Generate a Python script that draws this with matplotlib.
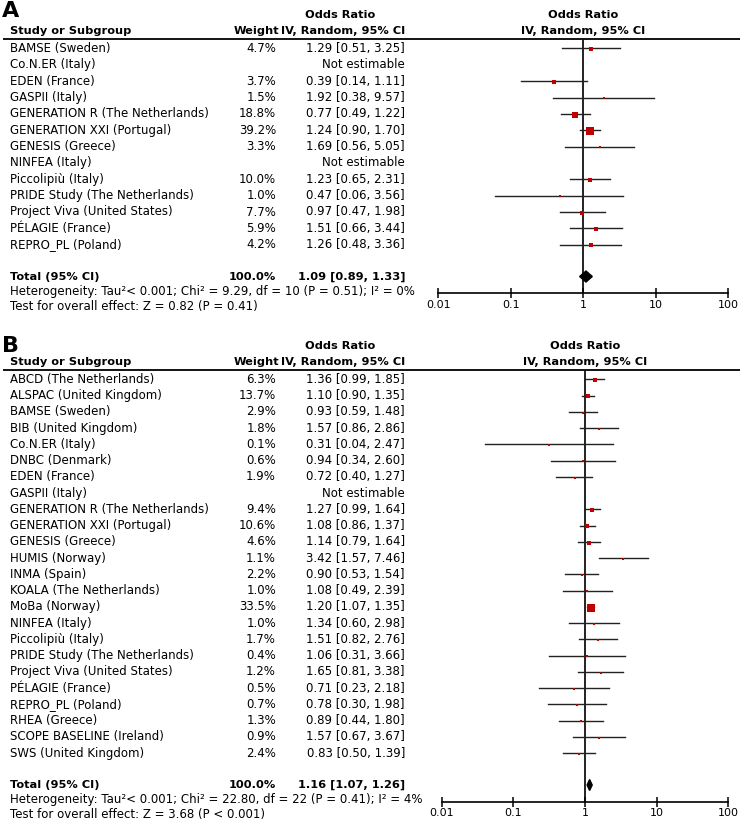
import matplotlib
matplotlib.use("Agg")
import matplotlib.pyplot as plt
from matplotlib.patches import Polygon

plt.rcParams['font.family'] = ['DejaVu Sans']

# ---------------- Data ----------------
studies_a = ["BAMSE (Sweden)", "Co.N.ER (Italy)", "EDEN (France)", "GASPII (Italy)",
             "GENERATION R (The Netherlands)", "GENERATION XXI (Portugal)", "GENESIS (Greece)",
             "NINFEA (Italy)", "Piccolipiù (Italy)", "PRIDE Study (The Netherlands)",
             "Project Viva (United States)", "PÉLAGIE (France)", "REPRO_PL (Poland)"]
weight_a = [4.7, None, 3.7, 1.5, 18.8, 39.2, 3.3, None, 10.0, 1.0, 7.7, 5.9, 4.2]
or_a = [1.29, None, 0.39, 1.92, 0.77, 1.24, 1.69, None, 1.23, 0.47, 0.97, 1.51, 1.26]
lo_a = [0.51, None, 0.14, 0.38, 0.49, 0.90, 0.56, None, 0.65, 0.06, 0.47, 0.66, 0.48]
hi_a = [3.25, None, 1.11, 9.57, 1.22, 1.70, 5.05, None, 2.31, 3.56, 1.98, 3.44, 3.36]
total_a = (1.09, 0.89, 1.33)
het_a = "Heterogeneity: Tau²< 0.001; Chi² = 9.29, df = 10 (P = 0.51); I² = 0%"
test_a = "Test for overall effect: Z = 0.82 (P = 0.41)"

studies_b = ["ABCD (The Netherlands)", "ALSPAC (United Kingdom)", "BAMSE (Sweden)",
             "BIB (United Kingdom)", "Co.N.ER (Italy)", "DNBC (Denmark)", "EDEN (France)",
             "GASPII (Italy)", "GENERATION R (The Netherlands)", "GENERATION XXI (Portugal)",
             "GENESIS (Greece)", "HUMIS (Norway)", "INMA (Spain)", "KOALA (The Netherlands)",
             "MoBa (Norway)", "NINFEA (Italy)", "Piccolipiù (Italy)", "PRIDE Study (The Netherlands)",
             "Project Viva (United States)", "PÉLAGIE (France)", "REPRO_PL (Poland)",
             "RHEA (Greece)", "SCOPE BASELINE (Ireland)", "SWS (United Kingdom)"]
weight_b = [6.3, 13.7, 2.9, 1.8, 0.1, 0.6, 1.9, None, 9.4, 10.6, 4.6, 1.1, 2.2, 1.0,
            33.5, 1.0, 1.7, 0.4, 1.2, 0.5, 0.7, 1.3, 0.9, 2.4]
or_b = [1.36, 1.10, 0.93, 1.57, 0.31, 0.94, 0.72, None, 1.27, 1.08, 1.14, 3.42, 0.90, 1.08,
        1.20, 1.34, 1.51, 1.06, 1.65, 0.71, 0.78, 0.89, 1.57, 0.83]
lo_b = [0.99, 0.90, 0.59, 0.86, 0.04, 0.34, 0.40, None, 0.99, 0.86, 0.79, 1.57, 0.53, 0.49,
        1.07, 0.60, 0.82, 0.31, 0.81, 0.23, 0.30, 0.44, 0.67, 0.50]
hi_b = [1.85, 1.35, 1.48, 2.86, 2.47, 2.60, 1.27, None, 1.64, 1.37, 1.64, 7.46, 1.54, 2.39,
        1.35, 2.98, 2.76, 3.66, 3.38, 2.18, 1.98, 1.80, 3.67, 1.39]
total_b = (1.16, 1.07, 1.26)
het_b = "Heterogeneity: Tau²< 0.001; Chi² = 22.80, df = 22 (P = 0.41); I² = 4%"
test_b = "Test for overall effect: Z = 3.68 (P < 0.001)"

ticks = [0.01, 0.1, 1, 10, 100]
tick_labels = ["0.01", "0.1", "1", "10", "100"]

# ---------------- Layout ----------------
W, H = 740, 826
fig = plt.figure(figsize=(W / 100, H / 100), dpi=100)
bg = fig.add_axes([0, 0, 1, 1])
bg.set_xlim(0, W)
bg.set_ylim(H, 0)
bg.axis('off')

FS = 8.5
FSB = 8.2
RED = '#C00000'


def panel(letter, top, studies, weights, ors, los, his, total, het, test,
          x0, x1, line_y, row0, step, total_y, het_y, test_y, axis_y):
    # letter
    bg.text(2, top - 1, letter, fontsize=16, fontweight='bold', va='top', ha='left')
    # headers
    bg.text(340.5, line_y - 24, "Odds Ratio", fontsize=FSB, fontweight='bold', ha='center', va='center')
    bg.text(10, line_y - 8, "Study or Subgroup", fontsize=FSB, fontweight='bold', ha='left', va='center')
    bg.text(279, line_y - 8, "Weight", fontsize=FSB, fontweight='bold', ha='right', va='center')
    bg.text(405, line_y - 8, "IV, Random, 95% CI", fontsize=FSB, fontweight='bold', ha='right', va='center')
    xc = x0 + (x1 - x0) / 2
    bg.text(xc, line_y - 24, "Odds Ratio", fontsize=FSB, fontweight='bold', ha='center', va='center')
    bg.text(xc, line_y - 8, "IV, Random, 95% CI", fontsize=FSB, fontweight='bold', ha='center', va='center')
    bg.plot([3, W], [line_y, line_y], color='black', lw=1.3, solid_capstyle='butt')

    for i, name in enumerate(studies):
        y = row0 + step * i
        bg.text(10, y, name, fontsize=FS, ha='left', va='center')
        if weights[i] is None:
            bg.text(405, y, "Not estimable", fontsize=FS, ha='right', va='center')
        else:
            bg.text(276, y, f"{weights[i]:.1f}%", fontsize=FS, ha='right', va='center')
            bg.text(405, y, f"{ors[i]:.2f} [{los[i]:.2f}, {his[i]:.2f}]", fontsize=FS,
                    ha='right', va='center')
    bg.text(10, total_y, "Total (95% CI)", fontsize=FSB, fontweight='bold', ha='left', va='center')
    bg.text(276, total_y, "100.0%", fontsize=FSB, fontweight='bold', ha='right', va='center')
    bg.text(405, total_y, f"{total[0]:.2f} [{total[1]:.2f}, {total[2]:.2f}]", fontsize=FSB,
            fontweight='bold', ha='right', va='center')
    bg.text(10, het_y, het, fontsize=FS, ha='left', va='center')
    bg.text(10, test_y, test, fontsize=FS, ha='left', va='center')

    # forest axes
    ax = fig.add_axes([x0 / W, 1 - axis_y / H, (x1 - x0) / W, (axis_y - line_y) / H])
    ax.set_xscale('log')
    ax.set_xlim(0.01, 100)
    ax.set_ylim(axis_y, line_y)
    ax.patch.set_alpha(0)
    for s in ['top', 'left', 'right']:
        ax.spines[s].set_visible(False)
    ax.spines['bottom'].set_linewidth(1.2)
    ax.set_yticks([])
    ax.set_xticks(ticks)
    ax.set_xticklabels(tick_labels)
    ax.minorticks_off()
    ax.tick_params(axis='x', direction='inout', length=7, width=1.1, labelsize=8, pad=1)
    ax.axvline(1, color='#111111', lw=1.3, zorder=1)
    for i in range(len(studies)):
        if weights[i] is None:
            continue
        y = row0 + step * i
        ax.plot([los[i], his[i]], [y, y], color='#222222', lw=1.0, zorder=2)
        side = 2.5 + 0.14 * weights[i]  # px
        ax.scatter([ors[i]], [y + 0.8], s=(side * 0.72) ** 2, marker='s', color=RED,
                   linewidths=0, zorder=3)
    est, lo, hi = total
    ax.add_patch(Polygon([(lo, total_y), (est, total_y - 5.5), (hi, total_y),
                          (est, total_y + 5.5)], closed=True, color='black', zorder=4))
    return ax


panel("A", 2, studies_a, weight_a, or_a, lo_a, hi_a, total_a, het_a, test_a,
      438.3, 728.3, 39, 48.5, 16.35, 276.5, 292, 306.5, 293.3)
panel("B", 337, studies_b, weight_b, or_b, lo_b, hi_b, total_b, het_b, test_b,
      441.7, 728.3, 370, 379.3, 16.25, 785, 800, 814.5, 802)

fig.savefig("out.png", dpi=100)
